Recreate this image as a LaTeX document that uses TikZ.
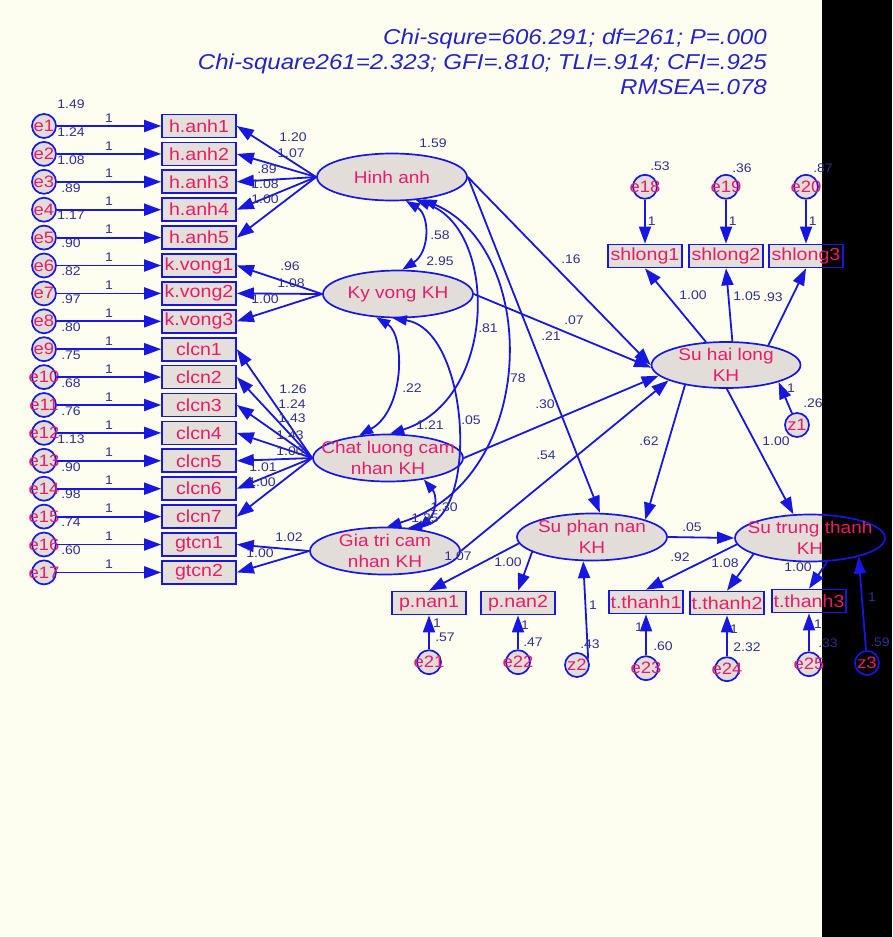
\documentclass[tikz,border=0pt]{standalone}
\usepackage{fontspec}
\setmainfont{Liberation Sans}[FakeStretch=1.12]
\usetikzlibrary{arrows.meta,positioning,shapes.geometric}
\definecolor{bgcream}{HTML}{FEFEF0}
\definecolor{amosblue}{HTML}{1717E0}
\definecolor{amospink}{HTML}{E81C68}
\definecolor{amosnum}{HTML}{30308C}
\definecolor{titleblue}{HTML}{2323C8}
\definecolor{latfill}{HTML}{E4DEE8}
\definecolor{boxfill}{HTML}{E6E0E8}
\tikzset{
  lat/.style={ellipse, draw=amosblue, line width=1.7pt, minimum width=150pt, minimum height=47pt, inner xsep=-20pt, inner ysep=-4pt, align=center, font=\fontsize{17}{21}\selectfont, text=amospink, preaction={fill=latfill, blend mode=multiply}},
  ind/.style={rectangle, draw=amosblue, line width=1.7pt, minimum width=74pt, minimum height=23pt, inner sep=0pt, font=\fontsize{17.5}{20}\selectfont, text=amospink, preaction={fill=boxfill, blend mode=multiply}},
  err/.style={circle, draw=amosblue, line width=1.7pt, minimum size=24pt, inner sep=-7pt, font=\fontsize{16.5}{18}\selectfont, text=amospink, preaction={fill=latfill, blend mode=multiply}},
  num/.style={font=\fontsize{12.5}{13}\selectfont, text=amosnum, inner sep=1pt},
  title/.style={font=\fontsize{21.5}{25}\selectfont\itshape, text=titleblue, align=right, anchor=east, inner sep=0pt},
  arr/.style={draw=amosblue, line width=1.8pt, -{Triangle[length=17pt,width=12pt]}},
  cov/.style={draw=amosblue, line width=1.8pt, {Triangle[length=14pt,width=10pt]}-{Triangle[length=14pt,width=10pt]}}
}
\begin{document}
\begin{tikzpicture}[x=1pt, y=-1pt]
  \fill[bgcream] (0,0) rectangle (892,937);
  \useasboundingbox (0,0) rectangle (892,937);
  \fill[black] (822,0) rectangle (892,937);

  \node[title] (fitidx) at (767,62) {Chi-squre=606.291; df=261; P=.000\\Chi-square261=2.323; GFI=.810; TLI=.914; CFI=.925\\RMSEA=.078};

  % left column: errors, observed items
  \foreach \i/\v in {1/1.49, 2/1.24, 3/1.08, 4/.89, 5/1.17, 6/.90, 7/.82, 8/.97, 9/.80, 10/.75, 11/.68, 12/.76, 13/1.13, 14/.90, 15/.98, 16/.74, 17/.60}
    \node[num] (ve\i) at (71,126+27.9*\i-27.9-22) {\v};
  \foreach \i/\t in {1/h.anh1, 2/h.anh2, 3/h.anh3, 4/h.anh4, 5/h.anh5, 6/k.vong1, 7/k.vong2, 8/k.vong3, 9/clcn1, 10/clcn2, 11/clcn3, 12/clcn4, 13/clcn5, 14/clcn6, 15/clcn7, 16/gtcn1, 17/gtcn2} {
    \node[err] (e\i) at (44,126+27.9*\i-27.9) {e\i};
    \node[ind] (b\i) at (199,126+27.9*\i-27.9) {\t};
    \draw[arr] (e\i) -- node[num, above=2pt] (w\i) {1} (b\i);
  }

  % latent factors
  \node[lat] (ha) at (392,177) {Hinh anh};
  \node[lat] (kv) at (398,294) {Ky vong KH};
  \node[lat] (cl) at (388,458) {Chat luong cam\\nhan KH};
  \node[lat] (gt) at (385,551) {Gia tri cam\\nhan KH};
  \node[lat, minimum width=149pt, minimum height=46pt] (shl) at (726,365) {Su hai long\\KH};
  \node[lat] (spn) at (592,537) {Su phan nan\\KH};
  \node[lat] (stt) at (810,538) {Su trung thanh\\KH};

  % right side items
  \node[ind] (sh1) at (645,256) {shlong1};
  \node[ind] (sh2) at (726,256) {shlong2};
  \node[ind] (sh3) at (806,256) {shlong3};
  \node[err, above=44pt of sh1] (e18) {e18};
  \node[err, above=44pt of sh2] (e19) {e19};
  \node[err, above=44pt of sh3] (e20) {e20};
  \node[err] (z1) at (797,425) {z1};

  \node[ind] (p1) at (429,603) {p.nan1};
  \node[ind] (p2) at (518,603) {p.nan2};
  \node[ind] (t1) at (646,602) {t.thanh1};
  \node[ind] (t2) at (727,603) {t.thanh2};
  \node[ind] (t3) at (809,601) {t.thanh3};
  \node[err, below=34pt of p1] (e21) {e21};
  \node[err, below=34pt of p2] (e22) {e22};
  \node[err] (z2) at (577,665) {z2};
  \node[err, below=41pt of t1] (e23) {e23};
  \node[err, below=41pt of t2] (e24) {e24};
  \node[err, below=38pt of t3] (e25) {e25};
  \node[err] (z3) at (867,663) {z3};

  % loadings
  \foreach \i/\l/\x/\y in {1/1.20/293/137, 2/1.07/291/153, 3/.89/267/169, 4/1.08/265/184, 5/1.00/265/199}
    \draw[arr] (ha.west) -- (b\i.east) node[num] (lo\i) at (\x,\y) {\l};
  \foreach \i/\l/\x/\y in {6/.96/290/266, 7/1.08/291/283, 8/1.00/265/299}
    \draw[arr] (kv.west) -- (b\i.east) node[num] (lo\i) at (\x,\y) {\l};
  \foreach \i/\l/\x/\y in {9/1.26/293/389, 10/1.24/292/404, 11/1.43/292/418, 12/1.43/290/435, 13/1.00/290/451, 14/1.01/263/467, 15/1.00/262/482}
    \draw[arr] (cl.west) -- (b\i.east) node[num] (lo\i) at (\x,\y) {\l};
  \foreach \i/\l/\x/\y in {16/1.02/289/537, 17/1.00/260/553}
    \draw[arr] (gt.west) -- (b\i.east) node[num] (lo\i) at (\x,\y) {\l};

  \draw[arr] (shl.131) -- (sh1.south) node[num] (lo18) at (693,295) {1.00};
  \draw[arr] (shl.75) -- (sh2.south) node[num] (lo19) at (747,296) {1.05};
  \draw[arr] (shl.25) -- (sh3.south) node[num] (lo20) at (773,297) {.93};
  \draw[arr] (spn.185) -- (p1.north) node[num] (lo21) at (458,556) {1.07};
  \draw[arr] (spn.194) -- (p2.north) node[num] (lo22) at (508,562) {1.00};
  \draw[arr] (stt.185) -- (t1.north) node[num] (lo23) at (680,557) {.92};
  \draw[arr] (stt.196) -- (t2.north) node[num] (lo24) at (725,563) {1.08};
  \draw[arr] (stt.306) -- (t3.north) node[num] (lo25) at (798,567) {1.00};

  % error terms
  \draw[arr] (e18) -- node[num, right=1pt] (w18) {1} (sh1);
  \draw[arr] (e19) -- node[num, right=1pt] (w19) {1} (sh2);
  \draw[arr] (e20) -- node[num, right=1pt] (w20) {1} (sh3);
  \node[num] (ve18) at (660,166) {.53};
  \node[num] (ve19) at (742,168) {.36};
  \node[num] (ve20) at (823,168) {.87};
  \draw[arr] (e21) -- (p1) node[num] (w21) at (437,623) {1} node[num] (ve21) at (445,637) {.57};
  \draw[arr] (e22) -- (p2) node[num] (w22) at (525,625) {1} node[num] (ve22) at (533,642) {.47};
  \draw[arr] (e23) -- (t1) node[num] (w23) at (639,627) {1} node[num] (ve23) at (663,646) {.60};
  \draw[arr] (e24) -- (t2) node[num] (w24) at (734,629) {1} node[num] (ve24) at (747,647) {2.32};
  \draw[arr] (e25) -- (t3) node[num] (w25) at (818,624) {1} node[num] (ve25) at (828,643) {.33};
  \draw[arr] (z1) -- (shl.342) node[num] (wz1) at (791,388) {1} node[num] (vz1) at (813,403) {.26};
  \draw[arr] (z2.30) -- (spn.250) node[num] (wz2) at (593,605) {1} node[num] (vz2) at (590,644) {.43};
  \draw[arr] (z3) -- (stt.339) node[num] (wz3) at (872,597) {1} node[num] (vz3) at (880,642) {.59};

  % structural paths
  \draw[arr] (ha.east) -- (shl.west) node[num] (r1) at (571,259) {.16};
  \draw[arr] (ha.east) -- (spn.72) node[num] (r2) at (551,336) {.21};
  \draw[arr] (kv.east) -- (shl.182) node[num] (r3) at (574,320) {.07};
  \draw[arr] (cl.east) -- (shl.189) node[num] (r4) at (545,404) {.30};
  \draw[arr] (gt.east) -- (shl.195) node[num] (r5) at (546,455) {.54};
  \draw[arr] (shl.206) -- (spn.18) node[num] (r6) at (649,441) {.62};
  \draw[arr] (shl.272) -- (stt.125) node[num] (r7) at (776,441) {1.00};
  \draw[arr] (spn.east) -- (stt.west) node[num] (r8) at (692,527) {.05};

  % covariances
  \draw[cov] (ha.300) .. controls (430,215) and (430,252) .. (kv.80);
  \draw[cov] (kv.227) .. controls (405,335) and (405,410) .. (cl.142);
  \draw[cov] (ha.316) .. controls (498,230) and (498,400) .. (cl.85);
  \draw[cov] (ha.324) .. controls (540,250) and (540,480) .. (gt.85);
  \draw[cov] (kv.258) .. controls (470,330) and (480,520) .. (gt.45);
  \draw[cov] (cl.329) .. controls (437,495) and (437,512) .. (gt.33);
  \node[num] (vha) at (433,143) {1.59};
  \node[num] (vkv) at (440,261) {2.95};
  \node[num] (vcl) at (430,425) {1.21};
  \node[num] (vgt) at (425,518) {1.35};
  \node[num] (c1) at (440,235) {.58};
  \node[num] (c2) at (412,388) {.22};
  \node[num] (c3) at (488,328) {.81};
  \node[num] (c4) at (516,378) {.78};
  \node[num] (c5) at (471,420) {.05};
  \node[num] (c6) at (444,507) {1.30};
\end{tikzpicture}
\end{document}
